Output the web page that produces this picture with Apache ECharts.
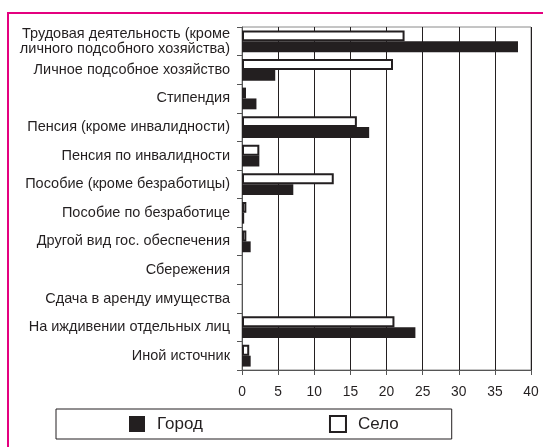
<!DOCTYPE html>
<html>
<head>
<meta charset="utf-8">
<script src="https://cdn.jsdelivr.net/npm/echarts@6/dist/echarts.min.js"></script>
<style>
  html, body { margin: 0; padding: 0; background: #fff; }
  #chart { width: 543px; height: 447px; }
</style>
</head>
<body>
<div id="chart"></div>
<script>
// источники средств к существованию, %
const categories = [
  'Трудовая деятельность (кроме\nличного подсобного хозяйства)',
  'Личное подсобное хозяйство',
  'Стипендия',
  'Пенсия (кроме инвалидности)',
  'Пенсия по инвалидности',
  'Пособие (кроме безработицы)',
  'Пособие по безработице',
  'Другой вид гос. обеспечения',
  'Сбережения',
  'Сдача в аренду имущества',
  'На иждивении отдельных лиц',
  'Иной источник'
]
const selo = [22.5, 20.9, 0.55, 15.9, 2.4, 12.7, 0.6, 0.6, 0, 0, 21.1, 1.0]
const gorod = [38.2, 4.6, 2.0, 17.6, 2.4, 7.1, 0.3, 1.2, 0, 0, 24.0, 1.2]
const xTicks = [0, 5, 10, 15, 20, 25, 30, 35, 40]

const ink = '#231f20'
const font = '"Liberation Sans", Arial, sans-serif'

// zero values -> no mark at all (otherwise the outline leaves a stub)
const noZero = arr => arr.map(v => (v === 0 ? '-' : v))

const chart = echarts.init(document.getElementById('chart'), null, { renderer: 'canvas' })

chart.setOption({
  animation: false,
  backgroundColor: '#fff',
  textStyle: { fontFamily: font },
  graphic: [{
    type: 'rect',
    shape: { x: 8, y: 13, width: 600, height: 500 },
    style: { fill: 'none', stroke: '#e4007f', lineWidth: 2 },
    silent: true
  }],
  grid: {
    left: 242,
    right: 12,
    top: 27,
    bottom: 77,
    show: true,
    borderColor: '#8a8a8a',
    borderWidth: 1,
    backgroundColor: 'transparent'
  },
  legend: {
    data: ['Город', 'Село'],
    icon: 'rect',
    left: 56,
    top: 409,
    padding: [6, 53, 6, 73],
    itemWidth: 16,
    itemHeight: 16,
    itemGap: 126,
    borderColor: ink,
    borderWidth: 1,
    textStyle: { fontSize: 17, color: ink, fontFamily: font, padding: [0, 0, 0, 7] }
  },
  xAxis: {
    type: 'value',
    min: 0,
    max: 40,
    interval: 5,
    axisLine: { show: true, lineStyle: { color: '#555', width: 1 } },
    axisTick: { show: true, length: 5, lineStyle: { color: '#555' } },
    axisLabel: {
      margin: 15,
      fontSize: 13.8,
      color: ink,
      formatter: v => xTicks.includes(v) ? String(v) : ''
    },
    splitLine: { show: true, lineStyle: { color: ink, width: 1 } }
  },
  yAxis: {
    type: 'category',
    data: categories,
    inverse: true,
    axisLine: { show: true, lineStyle: { color: '#555', width: 1 } },
    axisTick: { show: true, length: 5, lineStyle: { color: '#555' } },
    axisLabel: {
      margin: 12,
      fontSize: 14.5,
      lineHeight: 15,
      padding: [4, 0, 0, 0],
      color: ink,
      align: 'right'
    },
    splitLine: { show: false }
  },
  series: [
    {
      name: 'Село',
      type: 'bar',
      data: noZero(selo),
      barGap: '0%',
      barCategoryGap: '24%',
      itemStyle: { color: '#fff', borderColor: ink, borderWidth: 2 }
    },
    {
      name: 'Город',
      type: 'bar',
      data: noZero(gorod),
      barGap: '0%',
      barCategoryGap: '24%',
      itemStyle: { color: ink }
    }
  ]
})
</script>
</body>
</html>
